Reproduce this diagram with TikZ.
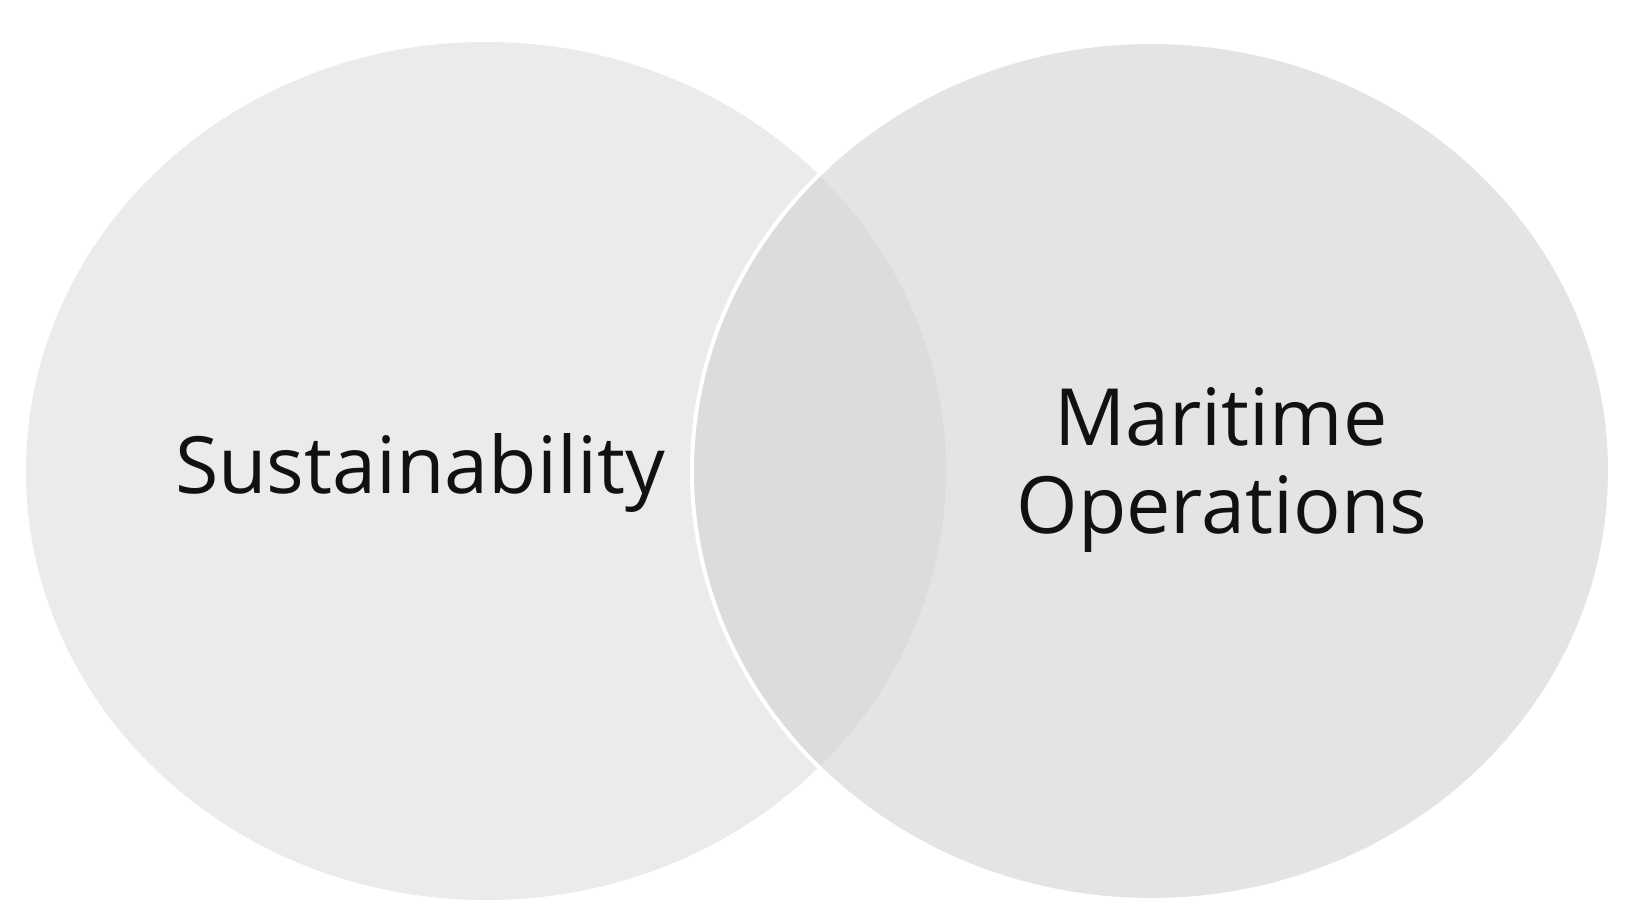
\documentclass[tikz,border=0pt]{standalone}
\usepackage{fontspec}
\setmainfont{Open Sans}
\definecolor{leftfill}{HTML}{EBEBEB}
\definecolor{rightfill}{HTML}{E4E4E4}
\definecolor{overlapfill}{HTML}{DCDCDC}
\definecolor{textcol}{HTML}{111111}
\tikzset{
  lbl/.style={text=textcol, font=\fontsize{39.5}{46}\selectfont, align=center, inner sep=0pt},
}
\begin{document}
\begin{tikzpicture}[x=0.5pt,y=-0.5pt]
\useasboundingbox (0,0) rectangle (1632,921);
\fill[white] (0,0) rectangle (1632,921);
% left set
\fill[leftfill] (486,471) ellipse [x radius=460, y radius=429];
% right set
\fill[rightfill] (1151,471) ellipse [x radius=459, y radius=429];
% overlap
\begin{scope}
  \clip (486,471) ellipse [x radius=460, y radius=429];
  \fill[overlapfill] (1151,471) ellipse [x radius=459, y radius=429];
\end{scope}
\draw[white, line width=2pt] (1151,471) ellipse [x radius=459, y radius=429];
\node[lbl, anchor=base] (sus) at (420,493) {Sustainability};
\node[lbl, anchor=base] (mar1) at (1221,445) {Maritime};
\node[lbl, anchor=base] (mar2) at (1222,533) {Operations};
\end{tikzpicture}
\end{document}
